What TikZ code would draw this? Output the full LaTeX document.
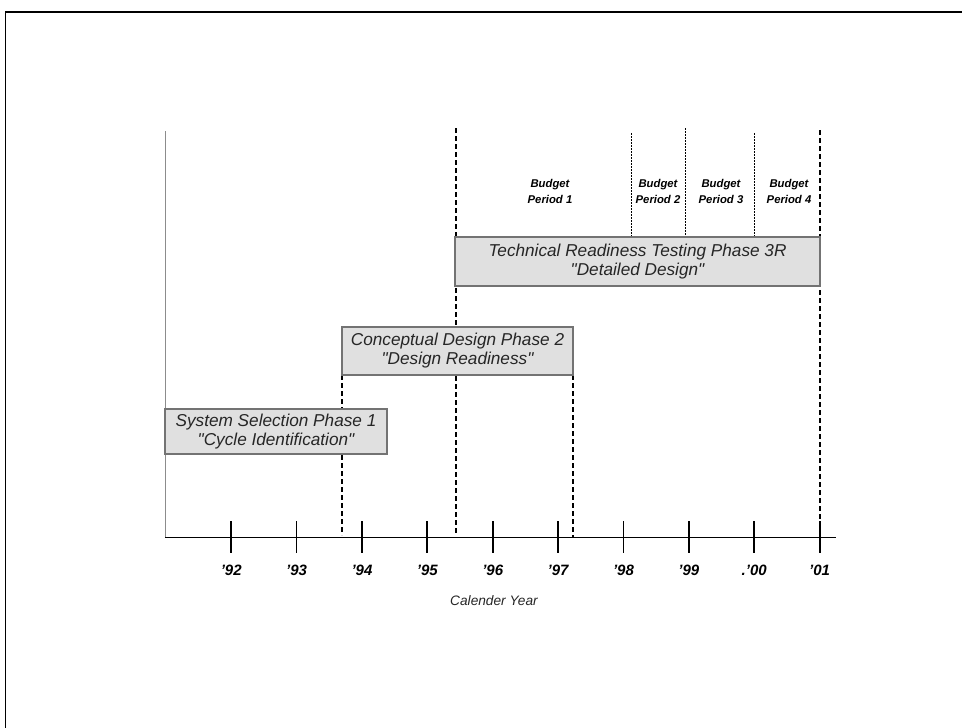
\documentclass[tikz,border=0pt]{standalone}
\usepackage{fontspec}
\setmainfont{Liberation Sans}
\begin{document}
\begin{tikzpicture}[x=1pt,y=-1pt,
  phase/.style={draw=black!55, fill=black!12, line width=1.3pt, inner sep=0pt, align=center,
    font=\fontsize{17.2}{19}\selectfont\itshape, text=black!85},
  yr/.style={font=\fontsize{15}{16}\selectfont\bfseries\itshape},
  bud/.style={font=\fontsize{11.3}{16}\selectfont\bfseries\itshape, align=center},
  axislabel/.style={font=\fontsize{13.7}{15}\selectfont\itshape, text=black!85},
  bigdash/.style={line width=1.6pt, dash pattern=on 5pt off 3pt},
  smalldash/.style={line width=0.8pt, dash pattern=on 2pt off 1pt},
  tick/.style={line width=1.8pt},
  frame/.style={line width=1.8pt}]
\useasboundingbox (0,0) rectangle (962,728);
% page frame
\coordinate (fl) at (5,728);
\coordinate (ftl) at (5,12);
\coordinate (ftr) at (962,12);
\draw[frame] (ftr) -- (ftl);
\draw[line width=1pt] (ftl) -- (fl);
% axis
\coordinate (ax0) at (165,537.5);
\coordinate (ax1) at (836,537.5);
\coordinate (vtop) at (165,131);
\draw[black!45, line width=1pt] (vtop) -- (ax0);
% dashed phase boundaries
\coordinate (d1t) at (342,375); \coordinate (d1b) at (342,535);
\coordinate (d2t) at (456,128); \coordinate (d2b) at (456,535);
\coordinate (d3t) at (573,375); \coordinate (d3b) at (573,537);
\coordinate (d4t) at (820,130); \coordinate (d4b) at (820,537);
\draw[bigdash] (d1t) -- (d1b);
\draw[bigdash] (d2t) -- (d2b);
\draw[bigdash] (d3t) -- (d3b);
\draw[bigdash] (d4t) -- (d4b);
% budget period dividers
\coordinate (b1t) at (631,133); \coordinate (b1b) at (631,237);
\coordinate (b2t) at (685,128); \coordinate (b2b) at (685,237);
\coordinate (b3t) at (754,133); \coordinate (b3b) at (754,237);
\draw[smalldash] (b1t) -- (b1b);
\draw[smalldash] (b2t) -- (b2b);
\draw[smalldash] (b3t) -- (b3b);
% phase boxes
\node[phase, minimum width=365pt, minimum height=49pt] (p3) at (637.5,261.5)
  {Technical Readiness Testing Phase 3R\\\textquotedbl Detailed Design\textquotedbl};
\node[phase, minimum width=231pt, minimum height=48pt] (p2) at (457.5,351)
  {Conceptual Design Phase 2\\\textquotedbl Design Readiness\textquotedbl};
\node[phase, minimum width=222pt, minimum height=45pt] (p1) at (276,431.5)
  {System Selection Phase 1\\\textquotedbl Cycle Identification\textquotedbl};
% budget labels
\node[bud] (bp1) at (550,191) {Budget\\Period 1};
\node[bud] (bp2) at (658,191) {Budget\\Period 2};
\node[bud] (bp3) at (721,191) {Budget\\Period 3};
\node[bud] (bp4) at (789,191) {Budget\\Period 4};
% axis line
\draw[tick] (ax0) -- (ax1);
% ticks and year labels
\foreach \n/\lab [count=\i from 0] in {92/'92,93/'93,94/'94,95/'95,96/'96,97/'97,98/'98,99/'99,00/.'00,01/'01}{
  \coordinate (t\n a) at (231.2+\i*65.38,521);
  \coordinate (t\n b) at (231.2+\i*65.38,553);
  \draw[tick] (t\n a) -- (t\n b);
  \node[yr] (y\n) at (231.2+\i*65.38,570) {\lab};
}
\node[axislabel] (cal) at (494,601) {Calender Year};
\end{tikzpicture}
\end{document}
